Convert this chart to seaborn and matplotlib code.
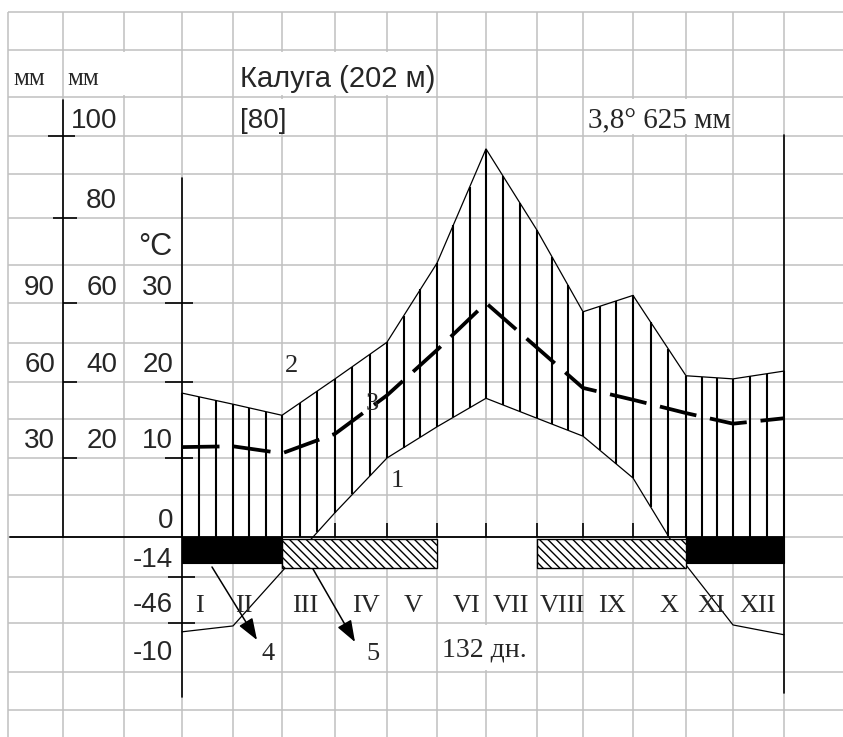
import numpy as np
import pandas as pd
import matplotlib
matplotlib.use("Agg")
import matplotlib.pyplot as plt
import seaborn as sns
from matplotlib import font_manager as fm
from matplotlib.patches import Rectangle

# ------------------------------------------------------------------ data
month_labels = ["I", "II", "III", "IV", "V", "VI", "VII", "VIII", "IX", "X", "XI", "XII"]
# curve vertices at month boundaries (0 = start of I ... 12 = end of XII), in °C-scale units
boundaries = list(range(13))
temperature = [-10.9, -10.3, -4.3, 2.9, 10.0, 14.0, 17.8, 15.1, 12.8, 7.3, -3.5, -10.2, -11.2]
precipitation = [18.5, 17.0, 15.5, 20.4, 25.1, 35.2, 48.3, 38.7, 28.9, 31.0, 20.8, 20.4, 21.4]
dashed_curve = [11.4, 11.5, 10.6, 13.1, 18.2, 24.1, 30.0, 24.4, 19.2, 17.6, 15.8, 14.4, 15.1]
# frost periods (month boundaries)
frost_black_start = [0, 10]
frost_black_end = [2, 12]
frost_hatch_start = [2, 7]
frost_hatch_end = [5, 10]
# axis labels
temp_labels = ["30", "20", "10", "0", "-14", "-46", "-10"]
mm_mid_labels = ["100", "80", "60", "40", "20"]
mm_left_labels = ["90", "60", "30"]
station = "Калуга (202 м)"
bracket_note = "[80]"
annual_note = "3,8° 625 мм"
period_note = "132 дн."
curve_numbers = ["1", "2", "3", "4", "5"]

# ------------------------------------------------------------------ layout (pixels)
W, H = 843, 737
GX_U = np.arange(-3, 14).astype(float)
GX_PX = np.array([8, 63, 124, 182, 233, 282, 335, 387, 437, 486, 537, 583, 633, 686, 733, 784, 835], float)
GY_U = np.arange(-20, 66, 5).astype(float)
GY_PX = np.array([710, 672, 623, 577, 537, 495, 458, 419, 382, 343, 303, 265, 218, 174, 136, 97, 50, 12], float)


def pw(v, xp, fp):
    v = np.asarray(v, float)
    out = np.interp(v, xp, fp)
    lo_s = (fp[1] - fp[0]) / (xp[1] - xp[0])
    hi_s = (fp[-1] - fp[-2]) / (xp[-1] - xp[-2])
    out = np.where(v < xp[0], fp[0] + (v - xp[0]) * lo_s, out)
    out = np.where(v > xp[-1], fp[-1] + (v - xp[-1]) * hi_s, out)
    return out


def fx(m):
    return pw(m, GX_U, GX_PX)


def ifx(p):
    return pw(p, GX_PX, GX_U)


def fy(t):
    return pw(t, GY_U, -GY_PX)


def ify(q):
    return pw(q, -GY_PX, GY_U)


def P(xp, yp):
    return float(ifx(xp)), float(ify(-yp))


def has_font(name):
    try:
        fm.findfont(fm.FontProperties(family=name), fallback_to_default=False)
        return True
    except Exception:
        return False


SANS = "Liberation Sans"
SERIF = "Liberation Serif"
if has_font("Liberation Sans Narrow"):
    NUM, NUM_SIZE = "Liberation Sans Narrow", 23
else:
    NUM, NUM_SIZE = "Liberation Sans", 20

sns.set_style("white")
plt.rcParams["font.family"] = [SANS, "DejaVu Sans"]

fig = plt.figure(figsize=(W / 100, H / 100), dpi=100)
fig.patch.set_facecolor("white")
ax = fig.add_axes([0, 0, 1, 1])

GRID = "#c0c0c0"
K = "black"

# ------------------------------------------------------------------ curves (seaborn)
df = pd.DataFrame({"b": boundaries, "t": temperature, "p": precipitation, "d": dashed_curve})
sns.lineplot(data=df, x="b", y="t", ax=ax, color=K, linewidth=0.9, estimator=None, sort=False, zorder=4)
sns.lineplot(data=df, x="b", y="p", ax=ax, color=K, linewidth=0.9, estimator=None, sort=False, zorder=4)
sns.lineplot(data=df, x="b", y="d", ax=ax, color=K, linewidth=2.7, estimator=None, sort=False,
             linestyle=(0, (10, 3.7)), zorder=5)

ax.set_xscale("function", functions=(fx, ifx))
ax.set_yscale("function", functions=(fy, ify))
ax.set_xlim(float(ifx(0)), float(ifx(W)))
ax.set_ylim(float(ify(-H)), float(ify(0)))
ax.set_axis_off()

# ------------------------------------------------------------------ grid paper
ax.vlines(GX_U[:-1], float(ify(-H)), 65, color=GRID, lw=1.1, zorder=0)
ax.hlines(GY_U, -3, float(ifx(W)), color=GRID, lw=1.1, zorder=0)
merged = [(-2, 0, 55, 60), (1, 5, 55, 60), (1, 3, 50, 55), (8, 11, 50, 55), (5, 7, -15, -10)]
for x0, x1, y0, y1 in merged:
    ax.add_patch(Rectangle((x0 + 0.03, y0 + 0.2), (x1 - x0) - 0.06, (y1 - y0) - 0.4,
                           facecolor="white", edgecolor="none", zorder=0.5))

# ------------------------------------------------------------------ humid-period hatching
xs = np.arange(0, 37) / 3.0
xs_px = fx(xs)
b_px = fx(boundaries)
t_px = np.interp(xs_px, b_px, fy(temperature))
p_px = np.interp(xs_px, b_px, fy(precipitation))
low_px = np.maximum(t_px, fy(0))
mask = p_px > low_px
ax.vlines(xs[mask], ify(low_px[mask]), ify(p_px[mask]), color=K, lw=1.5, zorder=3)

# ------------------------------------------------------------------ frost bars
ax.bar(frost_black_start, -3.2, width=np.subtract(frost_black_end, frost_black_start), bottom=0,
       align="edge", color=K, edgecolor=K, lw=0.8, zorder=6)
ax.bar(frost_hatch_start, -3.55, width=np.subtract(frost_hatch_end, frost_hatch_start), bottom=-0.3,
       align="edge", facecolor="white", edgecolor=K, hatch="\\\\\\\\", lw=1.0, zorder=6)

# ------------------------------------------------------------------ axes
AX_LW = 1.2
ax.plot([0, 0], [44.5, -18.3], color=K, lw=AX_LW, zorder=7)
ax.plot([12, 12], [50.1, -17.8], color=K, lw=AX_LW, zorder=7)
ax.plot([-2, -2], [54.6, 0], color=K, lw=AX_LW, zorder=7)
ax.plot([float(ifx(10)), 12], [0, 0], color=K, lw=1.3, zorder=7)
ax.hlines(50, float(ifx(48)), float(ifx(75)), color=K, lw=AX_LW, zorder=7)
ax.hlines(40, float(ifx(53)), float(ifx(77)), color=K, lw=AX_LW, zorder=7)
ax.hlines([30, 20, 10], -2, float(ifx(77)), color=K, lw=AX_LW, zorder=7)
ax.hlines([30, 20, 10], float(ifx(165)), float(ifx(193)), color=K, lw=AX_LW, zorder=7)
ax.hlines([-5, -10], float(ifx(168)), float(ifx(195)), color=K, lw=AX_LW, zorder=7)
ax.vlines(boundaries, 0, 1.7, color=K, lw=1.2, zorder=7)

# arrows 4 and 5
arrow_kw = dict(arrowstyle="-|>,head_length=0.55,head_width=0.2", color=K, lw=1.1,
                mutation_scale=24, shrinkA=0, shrinkB=0)
ax.annotate("", xy=P(257, 640), xytext=P(212, 567), arrowprops=arrow_kw, zorder=8)
ax.annotate("", xy=P(355, 642), xytext=P(313, 569), arrowprops=arrow_kw, zorder=8)


# ------------------------------------------------------------------ texts
def T(xp, yp, s, **kw):
    kw.setdefault("va", "baseline")
    fig.text(xp / W, 1 - yp / H, s, **kw)


T(13, 85, "мм", family=[SERIF], size=18, ha="left")
T(67, 85, "мм", family=[SERIF], size=18, ha="left")
T(240, 87, station, family=[SANS], size=21, ha="left")
T(240, 128, bracket_note, family=[NUM], size=NUM_SIZE, ha="left")
T(588, 128, annual_note, family=[SERIF], size=21, ha="left")
T(138, 255, "°C", family=[SANS], size=22, ha="left")

for lab, yb in zip(mm_mid_labels, [128, 208, 295, 372, 448]):
    T(117, yb, lab, family=[NUM], size=NUM_SIZE, ha="right")
for lab, yb in zip(mm_left_labels, [295, 372, 448]):
    T(55, yb, lab, family=[NUM], size=NUM_SIZE, ha="right")
for lab, yb in zip(temp_labels, [295, 372, 448, 528, 567, 612, 660]):
    T(173, yb, lab, family=[NUM], size=NUM_SIZE, ha="right")

roman_x = [199, 244, 305, 366, 413, 467, 511, 562, 612, 669, 711, 758]
for lab, xc in zip(month_labels, roman_x):
    T(xc, 612, lab, family=[SERIF], size=19, ha="center")

for lab, (xc, yb) in zip(curve_numbers, [(397, 487), (292, 372), (372, 410), (268, 660), (373, 660)]):
    T(xc, yb, lab, family=[SERIF], size=19, ha="center")

T(442, 657, period_note, family=[SERIF], size=20, ha="left")

fig.savefig("out.png", dpi=100, facecolor="white")
